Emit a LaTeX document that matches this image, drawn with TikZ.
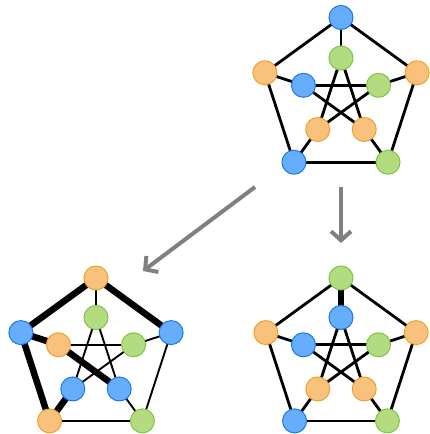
\documentclass[tikz,border=0pt]{standalone}
\usetikzlibrary{arrows.meta}
\definecolor{bfill}{HTML}{66ADFB}
\definecolor{bdraw}{HTML}{1A78EC}
\definecolor{gfill}{HTML}{B3DC80}
\definecolor{gdraw}{HTML}{7EC545}
\definecolor{ofill}{HTML}{F8C27C}
\definecolor{odraw}{HTML}{F0A02E}
\definecolor{arrgray}{HTML}{808080}
\pgfdeclarelayer{bg}
\pgfsetlayers{bg,main}
\tikzset{
  v/.style={circle, minimum size=24pt, inner sep=0pt, line width=1pt},
  vb/.style={v, fill=bfill, draw=bdraw},
  vg/.style={v, fill=gfill, draw=gdraw},
  vo/.style={v, fill=ofill, draw=odraw},
  e/.style={line width=2.8pt, black},
  ethin/.style={line width=1.9pt, black},
  ethick/.style={line width=6.5pt, black},
  ethickr/.style={line width=5.5pt, black},
  arr/.style={draw=arrgray, line width=4pt, -{Straight Barb[length=9pt,width=20pt,line width=4pt]}}
}
\begin{document}
\begin{tikzpicture}[x=1pt,y=1pt]
\useasboundingbox (0,0) rectangle (429,-434);

% ---------- top graph ----------
\begin{scope}[shift={(341,-97.5)}]
\node[vb] (T-o0) at (90:80) {};
\node[vo] (T-o1) at (18:80) {};
\node[vg] (T-o2) at (-54:80) {};
\node[vb] (T-o3) at (-126:80) {};
\node[vo] (T-o4) at (162:80) {};
\node[vg] (T-i0) at (90:39.5) {};
\node[vg] (T-i1) at (18:39.5) {};
\node[vo] (T-i2) at (-54:39.5) {};
\node[vo] (T-i3) at (-126:39.5) {};
\node[vb] (T-i4) at (162:39.5) {};
\begin{pgfonlayer}{bg}
\foreach \a/\b in {o0/o1,o1/o2,o2/o3,o3/o4,o4/o0,o0/i0,o1/i1,o2/i2,o3/i3,o4/i4,i0/i2,i2/i4,i4/i1,i1/i3,i3/i0}
  \draw[e] (T-\a.center) -- (T-\b.center);
\end{pgfonlayer}
\end{scope}

% ---------- bottom-left graph ----------
\begin{scope}[shift={(96,-357)}]
\node[vo] (L-o0) at (90:79) {};
\node[vb] (L-o1) at (18:79) {};
\node[vg] (L-o2) at (-54:79) {};
\node[vo] (L-o3) at (-126:79) {};
\node[vb] (L-o4) at (162:79) {};
\node[vg] (L-i0) at (90:39.5) {};
\node[vg] (L-i1) at (18:39.5) {};
\node[vb] (L-i2) at (-54:39.5) {};
\node[vb] (L-i3) at (-126:39.5) {};
\node[vo] (L-i4) at (162:39.5) {};
\begin{pgfonlayer}{bg}
\foreach \a/\b in {o1/o2,o2/o3,o0/i0,o1/i1,o2/i2,i0/i2,i4/i1,i1/i3,i3/i0}
  \draw[ethin] (L-\a.center) -- (L-\b.center);
\foreach \a/\b in {o0/o1,o0/o4,o4/o3,o4/i4,i4/i2,o3/i3}
  \draw[ethick] (L-\a.center) -- (L-\b.center);
\end{pgfonlayer}
\end{scope}

% ---------- bottom-right graph ----------
\begin{scope}[shift={(341,-357)}]
\node[vg] (R-o0) at (90:79) {};
\node[vo] (R-o1) at (18:79) {};
\node[vg] (R-o2) at (-54:79) {};
\node[vb] (R-o3) at (-126:79) {};
\node[vo] (R-o4) at (162:79) {};
\node[vb] (R-i0) at (90:39.5) {};
\node[vg] (R-i1) at (18:39.5) {};
\node[vo] (R-i2) at (-54:39.5) {};
\node[vo] (R-i3) at (-126:39.5) {};
\node[vb] (R-i4) at (162:39.5) {};
\begin{pgfonlayer}{bg}
\foreach \a/\b in {o0/o1,o1/o2,o2/o3,o3/o4,o4/o0,o1/i1,o2/i2,o3/i3,o4/i4,i0/i2,i2/i4,i4/i1,i1/i3,i3/i0}
  \draw[e] (R-\a.center) -- (R-\b.center);
\draw[ethickr] (R-o0.center) -- (R-i0.center);
\end{pgfonlayer}
\end{scope}

% ---------- arrows ----------
\coordinate (a1s) at (255,-187);
\coordinate (a1e) at (143,-271);
\coordinate (a2s) at (341,-187);
\coordinate (a2e) at (341,-243);
\draw[arr] (a1s) -- (a1e);
\draw[arr] (a2s) -- (a2e);
\end{tikzpicture}
\end{document}
